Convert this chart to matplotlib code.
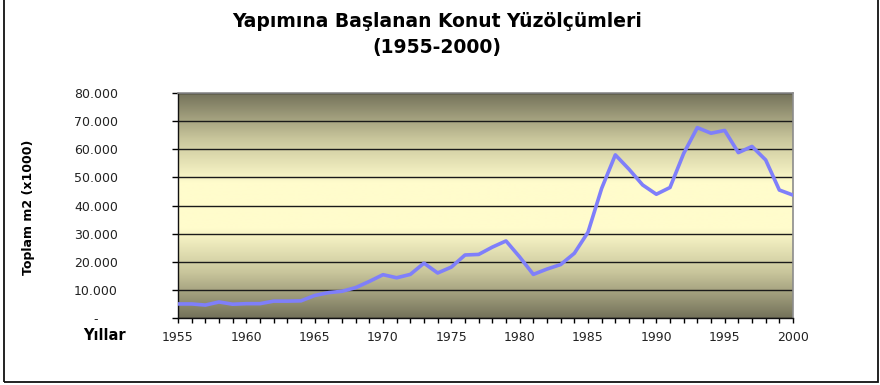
import matplotlib
matplotlib.use('Agg')
import matplotlib.pyplot as plt
import numpy as np
from matplotlib.colors import LinearSegmentedColormap
from matplotlib.ticker import FuncFormatter, MultipleLocator
from matplotlib.patches import Rectangle

# yillik yapimina baslanan konut yuzolcumu (m2 x 1000)
years = list(range(1955, 2001))
area = [5000, 5000, 4600, 5700, 4900, 5100, 5100, 6000, 6000, 6100,
        8000, 9000, 9500, 10800, 13000, 15400, 14300, 15500, 19500, 16000,
        18100, 22400, 22600, 25200, 27400, 21700, 15500, 17400, 19000, 23000,
        30500, 46100, 58000, 52900, 47300, 44000, 46400, 58500, 67700, 65700,
        66700, 58800, 61000, 56200, 45500, 43700]

title = 'Yapımına Başlanan Konut Yüzölçümleri\n(1955-2000)'
ylabel = 'Toplam m2 (x1000)'
xlabel = 'Yıllar'

plt.rcParams['font.family'] = ['DejaVu Sans']

fig = plt.figure(figsize=(8.8, 3.85), dpi=100)
fig.patch.set_facecolor('white')
ax = fig.add_axes([178/880, 1-318/385, (793-178)/880, (318-93)/385])

# arka plan: koyu-acik-koyu dikey gecis
cmap = LinearSegmentedColormap.from_list('bg', ['#74725a', '#c8c59b', '#fffccc', '#fffccc', '#c8c59b', '#74725a'])
grad = np.linspace(0, 1, 256).reshape(-1, 1)
ax.imshow(grad, extent=[1955, 2000, 0, 80000], aspect='auto', cmap=cmap,
          origin='lower', zorder=0, interpolation='bilinear')

ax.set_xlim(1955, 2000)
ax.set_ylim(0, 80000)
ax.yaxis.set_major_locator(MultipleLocator(10000))
ax.xaxis.set_major_locator(MultipleLocator(5))
ax.xaxis.set_minor_locator(MultipleLocator(1))
ax.grid(axis='y', color='#1a1a1a', lw=1.0, zorder=1)

ax.plot(years, area, color='#7f7ffa', lw=2.6, zorder=3, solid_joinstyle='round')

def fmt(v, pos):
    if v == 0:
        return '-'
    return f'{v:,.0f}'.replace(',', '.')

ax.yaxis.set_major_formatter(FuncFormatter(fmt))
ax.tick_params(axis='y', direction='out', length=4, width=1, pad=55,
               labelsize=9, labelcolor='#222222')
plt.setp(ax.get_yticklabels(), ha='center')
ax.tick_params(axis='x', which='both', direction='out', length=3.5, width=1,
               pad=6, labelsize=9, labelcolor='#222222')

for s in ['top', 'right']:
    ax.spines[s].set_color('#8c8c8c')
    ax.spines[s].set_linewidth(1.2)
for s in ['left', 'bottom']:
    ax.spines[s].set_color('#111111')
    ax.spines[s].set_linewidth(1.0)

ax.set_ylabel(ylabel, fontsize=9, fontweight='bold',
              family=['Liberation Sans Narrow', 'DejaVu Sans'])
ax.yaxis.set_label_coords(-0.232, 0.49)
ax.set_xlabel(xlabel, fontsize=10.5, fontweight='bold')
ax.xaxis.set_label_coords(-0.119, -0.08)
ax.xaxis.label.set_va('center')

fig.text(0.497, 0.968, title, ha='center', va='top', fontsize=13.5,
         fontweight='bold', linespacing=1.45)

# dis cerceve
fig.patches.append(Rectangle((4/880, 3/385), 874/880, 1.2, transform=fig.transFigure,
                             fill=False, ec='#111111', lw=1.3, clip_on=False))

fig.savefig('out.png', dpi=100)
